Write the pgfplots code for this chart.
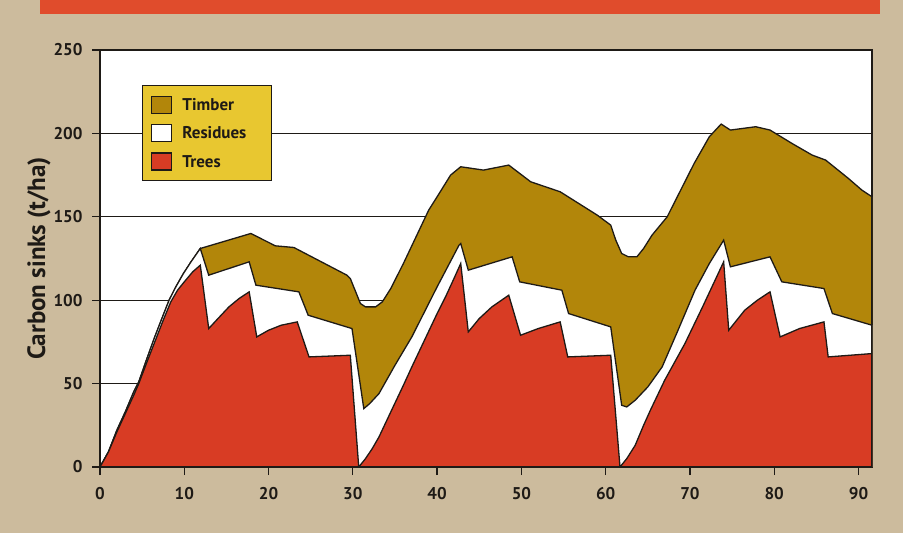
\documentclass[border=0pt]{standalone}
\usepackage{pgfplots}
\pgfplotsset{compat=1.18}
\usepackage{fontspec}
\setmainfont{PT Sans}
\definecolor{card}{RGB}{204,187,157}
\definecolor{barred}{RGB}{224,76,44}
\definecolor{treered}{RGB}{216,60,36}
\definecolor{timber}{RGB}{178,134,10}
\definecolor{legyellow}{RGB}{232,199,48}
\definecolor{ink}{RGB}{30,26,22}
\begin{document}
\begin{tikzpicture}
\fill[card] (0pt,0pt) rectangle (903pt,533pt);
\fill[barred] (40pt,519pt) rectangle (880pt,533pt);
\begin{axis}[
  at={(100pt,66pt)}, anchor=south west,
  scale only axis, width=772pt, height=417pt,
  xmin=0, xmax=91.6, ymin=0, ymax=250,
  xtick={0,10,...,90}, ytick={0,50,...,250},
  xtick pos=bottom, ytick pos=left,
  tick align=outside, major tick length=8pt,
  tick style={ink, line width=1.3pt},
  axis line style={ink, line width=1.8pt},
  axis background/.style={fill=white},
  ymajorgrids, major grid style={ink, line width=1pt},
  /pgf/number format/assume math mode=true,
  tick label style={font=\bfseries\fontsize{17}{17}\selectfont, text=ink},
  yticklabel style={xshift=-6pt},
  xticklabel style={yshift=-9pt},
  ylabel={Carbon sinks (t/ha)},
  ylabel style={font=\bfseries\fontsize{25}{25}\selectfont, text=ink, at={(axis description cs:-0.079,0.5)}, anchor=center},
  legend cell align=left,
  legend image code/.code={\draw[#1, draw=ink, line width=1.3pt] (0pt,-8pt) rectangle (20pt,9pt);},
  legend style={at={(axis description cs:0.054,0.916)}, anchor=north west, fill=legyellow, draw=ink, line width=1pt,
    font=\bfseries\fontsize{17}{17}\selectfont, text=ink, inner xsep=9pt, inner ysep=10pt, row sep=10pt, column sep=8pt},
]
\addplot[fill=timber, draw=ink, line width=1.3pt] coordinates {
(0,0)(1,9)(2,22)(3,33)(4,45)(4.6,51)(5.5,64)(6.5,78)(7.5,91)(8.2,100)(9,108)(9.9,116)(10.8,123)(11.9,131)(17.9,140)(20.8,132.6)(23.0,131.6)(29.3,115)(29.7,113)(30.9,98)(31.5,96)(32.7,96)(33.5,99)(34.5,107)(36,122)(37.5,138)(39,154)(40,162)(41.6,175)(42.8,180)(45.5,178)(48.5,181)(51.1,171)(54.6,165)(59,151)(60.6,145)(61.2,136)(61.9,128)(62.7,126)(63.7,126)(64.5,131)(65.5,139)(67.3,150)(69,167)(70.5,182)(72.3,198)(73.7,205.6)(74.8,202)(77.8,204)(79.5,202)(82.1,194)(84.5,187)(86.1,184)(88.8,173)(90.4,166)(91.6,162)
} \closedcycle;
\addlegendentry{Timber}
\addplot[fill=white, draw=ink, line width=1.3pt] coordinates {
(0,0)(1,9)(2,22)(3,33)(4,45)(4.6,51)(5.5,64)(6.5,78)(7.5,91)(8.2,100)(9,108)(9.9,116)(10.8,123)(11.9,131)(12.9,115)(17.7,123)(18.5,109)(23.6,105)(24.7,91)(29.9,83)(31.3,35)(32,38)(33.1,44)(35,61)(37,78)(40,108)(42.6,133)(42.8,134)(43.7,118)(48.9,126)(49.8,111)(54.8,106)(55.6,92)(60.6,84)(61.9,37)(62.5,36)(63.5,40)(65,48)(66.7,60)(68.5,81)(70.6,106)(72.3,122)(74.0,136)(74.8,120)(79.5,126)(80.9,111)(85.9,107)(86.9,92)(91.6,85)
} \closedcycle;
\addlegendentry{Residues\rule{14pt}{0pt}}
\addplot[fill=treered, draw=ink, line width=1.3pt] coordinates {
(0,0)(1,9)(2,21)(3,32)(4,43)(4.6,50)(5.5,62)(6.5,75)(7.5,88)(8.4,99)(9.2,106)(10,111)(11,117)(11.9,121)(12.9,83)(14,89)(15.3,96)(16.5,101)(17.7,105)(18.6,78)(20,82)(21.5,85)(23.4,87)(24.8,66)(29.7,67)(30.7,0)(31.5,5)(32.3,11)(33.1,18)(34.5,33)(36,49)(37,60)(38.5,76)(40,92)(41,102)(42,113)(42.8,122)(43.7,81)(45,89)(46.5,96)(48.5,103)(49.9,79)(52,83)(54.6,87)(55.5,66)(60.6,67)(61.7,0)(62.5,5)(63.5,13)(64.5,25)(65.3,34)(67,52)(69.4,74)(71.5,96)(74.0,123)(74.6,82)(76.5,94)(78,100)(79.5,105)(80.7,78)(83,83)(85.9,87)(86.4,66)(91.6,68)
} \closedcycle;
\addlegendentry{Trees}
\draw[ink, line width=1.8pt] (rel axis cs:0,0) rectangle (rel axis cs:1,1);
\end{axis}
\pgfresetboundingbox
\path[use as bounding box] (0pt,0pt) rectangle (903pt,533pt);
\end{tikzpicture}
\end{document}
